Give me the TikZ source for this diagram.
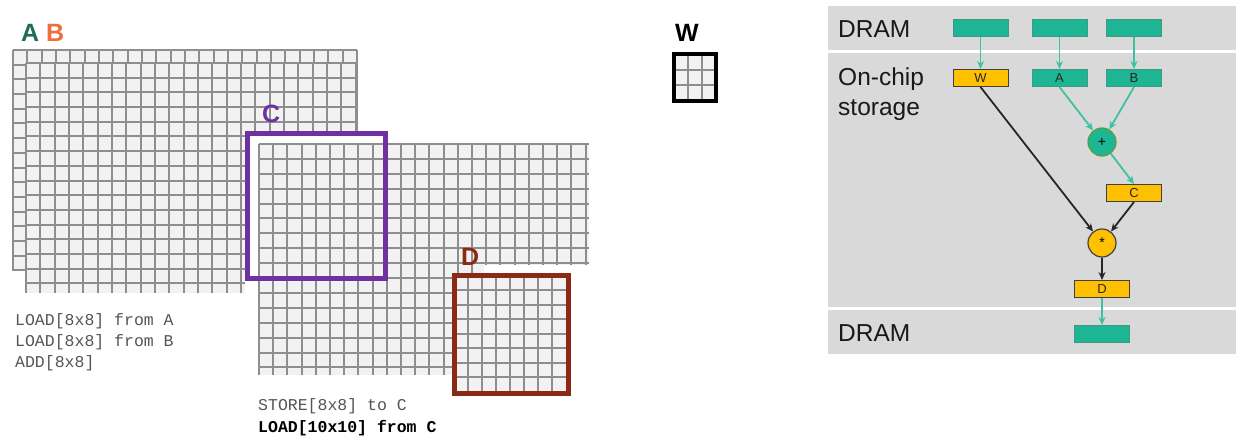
\documentclass[tikz,border=0pt]{standalone}
\usepackage{fontspec}
\setmainfont{Liberation Sans}
\setmonofont{Liberation Mono}
\usetikzlibrary{arrows.meta}
\definecolor{cellfill}{HTML}{F2F2F2}
\definecolor{gridcol}{HTML}{8E8E8E}
\definecolor{purp}{HTML}{7030A0}
\definecolor{dred}{HTML}{8B2A14}
\definecolor{tealA}{HTML}{1E6B57}
\definecolor{orangeB}{HTML}{F26B3A}
\definecolor{panel}{HTML}{D9D9D9}
\definecolor{tealbox}{HTML}{1DB594}
\definecolor{tealedge}{HTML}{3E9A80}
\definecolor{tealarrow}{HTML}{3CC2A2}
\definecolor{plusedge}{HTML}{5C9E3C}
\definecolor{yel}{HTML}{FFC000}
\definecolor{codegray}{HTML}{555555}
\newcommand\cellgrid[8]{%
  \fill[cellfill] (#1,#2) rectangle (#3,#4);
  \foreach \i in {0,...,#7}{\draw[gridline] ({round(#1+\i*#5)},#2) -- ({round(#1+\i*#5)},#4);}
  \foreach \j in {0,...,#8}{\draw[gridline] (#1,{round(#2+\j*#6)}) -- (#3,{round(#2+\j*#6)});}
}
\tikzset{
  gridline/.style={draw=gridcol, line width=2pt},
  biglabel/.style={anchor=base west, inner sep=0pt, font=\fontsize{25}{25}\selectfont\bfseries},
  code/.style={anchor=base west, inner sep=0pt, font=\fontsize{16.5}{16.5}\selectfont\ttfamily, text=codegray},
  bandlabel/.style={anchor=base west, inner sep=0pt, font=\fontsize{24.5}{24.5}\selectfont, text=black!90},
  tbox/.style={rectangle, minimum width=55pt, minimum height=17pt, inner sep=0pt, fill=tealbox, draw=tealedge, line width=1pt, font=\fontsize{13}{13}\selectfont, text=black!85},
  ybox/.style={tbox, fill=yel, draw=black!75},
  opcirc/.style={circle, minimum size=28pt, inner sep=0pt, line width=1.2pt, font=\fontsize{14}{14}\selectfont},
  tarrow/.style={draw=tealarrow, line width=1.8pt, -{Stealth[length=8pt,width=7pt]}},
  karrow/.style={draw=black!85, line width=1.8pt, -{Stealth[length=8pt,width=7pt]}},
}
\begin{document}
\begin{tikzpicture}[x=1pt,y=-1pt]
\useasboundingbox (0,0) rectangle (1236,436);
\fill[white] (0,0) rectangle (1236,436);
% grids A and B
\cellgrid{13}{50}{357}{271}{14.33}{14.7}{24}{15}
\cellgrid{26}{63}{356}{293}{14.33}{14.7}{23}{15}
% C image background and grid
\fill[white] (245,131) rectangle (603,381);
\cellgrid{259}{144}{589}{375}{14.2}{14.9}{23}{15}
% D image background
\fill[white] (484,265) rectangle (603,397);
\fill[white] (452,273) rectangle (571,397);
\fill[cellfill] (454.5,275.5) rectangle (568.5,393.5);
\foreach \k in {0,...,6}{
  \draw[gridline] ({468+14*\k},275.5) -- ({468+14*\k},393.5);
  \draw[gridline] (454.5,{round(290+14.5*\k)}) -- (568.5,{round(290+14.5*\k)});
}
\draw[dred, line width=5pt] (454.5,275.5) rectangle (568.5,393.5);
\draw[purp, line width=5pt] (247.5,133.5) rectangle (385.5,278.5);
% labels
\node[biglabel, text=tealA] (labA) at (21,41.7) {A};
\node[biglabel, text=orangeB] (labB) at (46,41.7) {B};
\node[biglabel, text=purp] (labC) at (262,122.7) {C};
\node[biglabel, text=dred] (labD) at (461,265) {D};
\node[biglabel, text=black] (labW) at (675,41.7) {W};
% W box
\fill[cellfill] (674,54) rectangle (716,101);
\foreach \k in {1,2}{
  \draw[gridline, line width=1.6pt] ({674+14*\k},54) -- ({674+14*\k},101);
  \draw[gridline, line width=1.6pt] (674,{round(54+15.67*\k)}) -- (716,{round(54+15.67*\k)});
}
\draw[black, line width=4pt] (674,54) rectangle (716,101);
% code
\node[code] (c1) at (15,325) {LOAD[8x8] from A};
\node[code] (c2) at (15,346) {LOAD[8x8] from B};
\node[code] (c3) at (15,367) {ADD[8x8]};
\node[code] (c4) at (258,410.7) {STORE[8x8] to C};
\node[code, text=black, font=\fontsize{16.5}{16.5}\selectfont\ttfamily\bfseries] (c5) at (258,432) {LOAD[10x10] from C};
% right panel
\fill[panel] (828,6) rectangle (1236,50.5);
\fill[panel] (828,53.5) rectangle (1236,307);
\fill[panel] (828,310) rectangle (1236,354);
\node[bandlabel] (t1) at (838,37.5) {DRAM};
\node[bandlabel] (t2) at (838,85.5) {On-chip};
\node[bandlabel] (t3) at (838,115) {storage};
\node[bandlabel] (t4) at (838,341.5) {DRAM};
\node[tbox] (d1) at (980.5,28.5) {};
\node[tbox] (d2) at (1059.5,28.5) {};
\node[tbox] (d3) at (1134,28.5) {};
\node[ybox] (w) at (980.5,78) {W};
\node[tbox] (a) at (1059.5,78) {A};
\node[tbox] (b) at (1134,78) {B};
\node[opcirc, fill=tealbox, draw=plusedge] (plus) at (1102,142) {+};
\node[ybox] (c) at (1134,193) {C};
\node[opcirc, fill=yel, draw=black!75] (star) at (1102,243) {*};
\node[ybox] (d) at (1102,289) {D};
\node[tbox] (d4) at (1102,334) {};
\draw[tarrow] (d1) -- (w);
\draw[tarrow] (d2) -- (a);
\draw[tarrow] (d3) -- (b);
\draw[tarrow] (a.south) -- (plus);
\draw[tarrow] (b.south) -- (plus);
\draw[tarrow] (plus) -- (c.north);
\draw[karrow] (w.south) -- (star);
\draw[karrow] (c.south) -- (star);
\draw[karrow] (star) -- (d);
\draw[tarrow] (d) -- (d4);
\end{tikzpicture}
\end{document}
